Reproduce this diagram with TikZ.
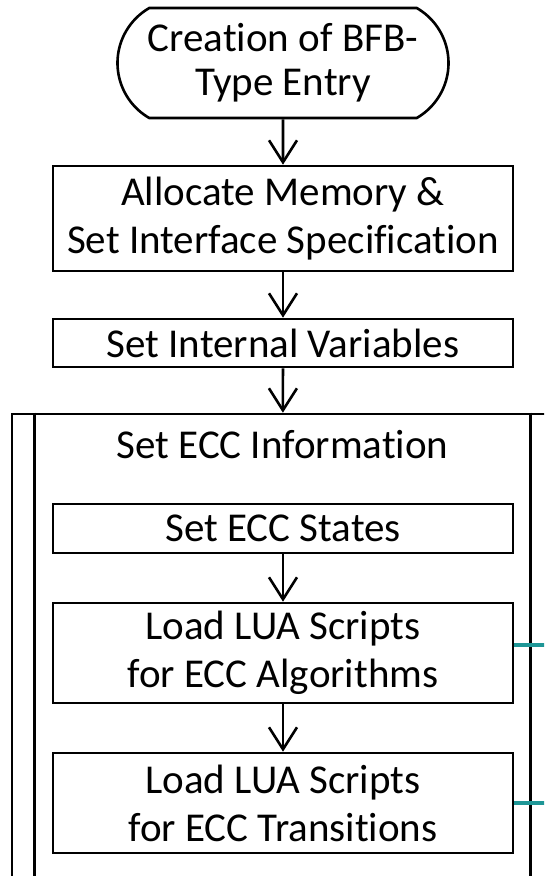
\documentclass[tikz,border=0pt]{standalone}
\usepackage{fontspec}
\setmainfont[Ligatures=NoCommon]{Carlito}
\usetikzlibrary{arrows.meta,shapes.misc}
\definecolor{linkteal}{RGB}{30,150,150}
\begin{document}
\begin{tikzpicture}[x=1pt,y=-1pt,line width=2.6pt,
  txt/.style={font=\fontsize{41}{48}\selectfont,align=center,inner sep=0pt},
  box/.style={txt,draw,rectangle,minimum width=460pt},
  startbox/.style={txt,draw,rounded rectangle,rounded rectangle arc length=120,
    minimum width=331pt,minimum height=110pt,font=\fontsize{41}{44}\selectfont},
  flow/.style={-{Straight Barb[length=22pt,width=28pt]}},
  link/.style={draw=linkteal,line width=3.2pt}]
\useasboundingbox (0,0) rectangle (544,876);
\clip (0,0) rectangle (544,876);
\node[startbox] (start) at (283,63) {Creation of BFB-\\Type Entry};
\node[box,minimum height=105pt] (alloc) at (283,218.5) {Allocate Memory \&\\Set Interface Specification};
\node[box,minimum height=48pt] (intvar) at (283,343) {Set Internal Variables};
% ECC block, runs off the page at right and bottom
\node[draw,rectangle,minimum width=541pt,minimum height=486pt,inner sep=0pt] (ecc) at (282.5,657) {};
\draw ([xshift=24pt]ecc.north west) -- ([xshift=24pt]ecc.south west);
\draw ([xshift=-24pt]ecc.north east) -- ([xshift=-24pt]ecc.south east);
\node[txt] (ecctitle) at (282.5,445) {Set ECC Information};
\node[box,minimum height=49pt] (states) at (283,528.5) {Set ECC States};
\node[box,minimum height=100pt] (algo) at (283,653) {Load LUA Scripts\\for ECC Algorithms};
\node[box,minimum height=100pt] (trans) at (283,803) {Load LUA Scripts\\for ECC Transitions};
\draw[flow] (start) -- (alloc);
\draw[flow] (alloc) -- (intvar);
\draw[flow] (intvar) -- (ecc);
\draw[flow] (states) -- (algo);
\draw[flow] (algo) -- (trans);
\draw[link] ([yshift=8pt]algo.east) -- ([yshift=8pt]algo.east -| ecc.east);
\draw[link] (trans.east) -- (trans.east -| ecc.east);
\end{tikzpicture}
\end{document}
